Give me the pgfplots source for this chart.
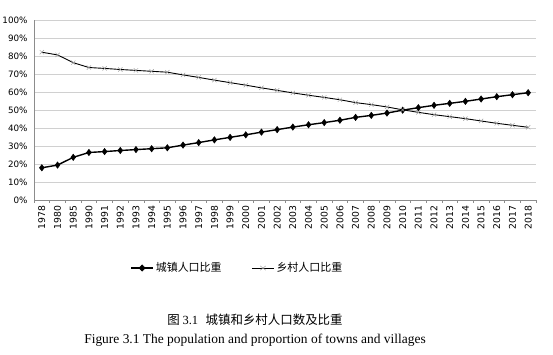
\documentclass[border=0pt]{standalone}
\usepackage{fontspec}
\usepackage{pgfplots}
\pgfplotsset{compat=1.18}
\setmainfont{Liberation Serif}
\newfontfamily\cjk{Noto Sans CJK SC}
\newfontfamily\dv{DejaVu Sans}
\definecolor{gridc}{HTML}{D0D0D0}
\definecolor{axc}{HTML}{8C8C8C}
\definecolor{xmk}{HTML}{A0A0A0}
\begin{document}
\begin{tikzpicture}
\useasboundingbox (0,0) rectangle (553bp,355bp);
\begin{axis}[
  at={(34bp,155bp)}, anchor=south west,
  scale only axis, width=502bp, height=180bp,
  xmin=-0.5, xmax=31.5, ymin=0, ymax=100,
  axis x line*=bottom, axis y line*=left,
  axis line style={axc, line width=0.9pt},
  xtick=data,
  xticklabels={1978,1980,1985,1990,1991,1992,1993,1994,1995,1996,1997,1998,1999,2000,2001,2002,2003,2004,2005,2006,2007,2008,2009,2010,2011,2012,2013,2014,2015,2016,2017,2018},
  x tick label style={rotate=90, anchor=east, font=\dv\fontsize{9.3}{10}\selectfont, inner sep=1.5pt},
  major x tick style={draw=none},
  minor xtick={-0.5,0.5,...,31.5},
  minor x tick style={axc, line width=0.6pt},
  minor tick length=3pt,
  xtick pos=bottom,
  tick align=outside,
  ytick={0,10,...,100},
  yticklabels={0\%,10\%,20\%,30\%,40\%,50\%,60\%,70\%,80\%,90\%,100\%},
  y tick label style={font=\dv\fontsize{8.8}{10}\selectfont, inner sep=1pt, xshift=-1bp},
  ytick style={draw=none},
  ymajorgrids, grid style={gridc, line width=0.9pt},
  legend style={at={(0.405,-0.378)}, anchor=center, draw=none, fill=none,
    font=\cjk\fontsize{11}{12}\selectfont, legend columns=2,
    /tikz/every even column/.append style={column sep=28pt}},
  legend cell align=left,
  legend image post style={xscale=1.3},
]
\addplot[black, line width=1.4pt, mark=diamond*, mark size=3.2pt, mark options={fill=black, line width=0.5pt}]
 coordinates {(0,17.9)(1,19.4)(2,23.7)(3,26.4)(4,26.9)(5,27.5)(6,28.0)(7,28.5)(8,29.0)(9,30.5)(10,31.9)(11,33.4)(12,34.8)(13,36.2)(14,37.7)(15,39.1)(16,40.5)(17,41.8)(18,43.0)(19,44.3)(20,45.9)(21,47.0)(22,48.3)(23,49.9)(24,51.3)(25,52.6)(26,53.7)(27,54.8)(28,56.1)(29,57.4)(30,58.5)(31,59.6)};
\addlegendentry{城镇人口比重}
\addplot[black, line width=0.9pt, mark=x, mark size=3pt, mark options={xmk, line width=0.5pt}]
 coordinates {(0,82.1)(1,80.6)(2,76.3)(3,73.6)(4,73.1)(5,72.5)(6,72.0)(7,71.5)(8,71.0)(9,69.5)(10,68.1)(11,66.6)(12,65.2)(13,63.8)(14,62.3)(15,60.9)(16,59.5)(17,58.2)(18,57.0)(19,55.7)(20,54.1)(21,53.0)(22,51.7)(23,50.1)(24,48.7)(25,47.4)(26,46.3)(27,45.2)(28,43.9)(29,42.6)(30,41.5)(31,40.4)};
\addlegendentry{乡村人口比重}
\end{axis}
\node[font=\cjk\fontsize{12.5}{13}\selectfont] at (255bp,35bp) {图 {\rmfamily 3.1}\hspace{0.6em}城镇和乡村人口数及比重};
\node[font=\fontsize{13.5}{15}\selectfont] at (255bp,15bp) {Figure 3.1 The population and proportion of towns and villages};
\end{tikzpicture}
\end{document}
